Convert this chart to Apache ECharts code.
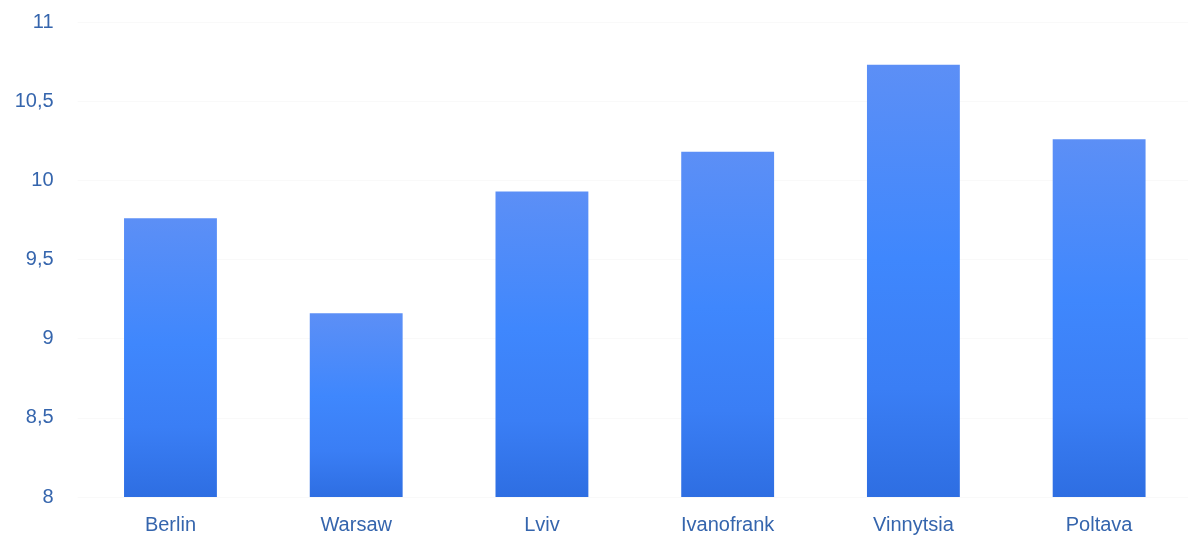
<!DOCTYPE html>
<html>
<head>
<meta charset="utf-8">
<script src="https://cdn.jsdelivr.net/npm/echarts@6/dist/echarts.min.js"></script>
<style>
html,body{margin:0;padding:0;background:#fff;overflow:hidden;}
#chart{width:1192px;height:537px;}
</style>
</head>
<body>
<div id="chart"></div>
<script>
const categories = ['Berlin', 'Warsaw', 'Lviv', 'Ivanofrank', 'Vinnytsia', 'Poltava'];
const values = [9.76, 9.16, 9.93, 10.18, 10.73, 10.26];
const yMin = 8, yMax = 11, yInterval = 0.5;

const chart = echarts.init(document.getElementById('chart'), null, {renderer: 'canvas'});
chart.setOption({
  animation: false,
  backgroundColor: '#ffffff',
  grid: {left: 77.6, right: 0, top: 22, bottom: 40, containLabel: false},
  xAxis: {
    type: 'category',
    data: categories,
    axisLine: {show: false},
    axisTick: {show: false},
    axisLabel: {color: '#3565ad', fontSize: 20, fontFamily: 'Liberation Sans, Arial, sans-serif', margin: 18}
  },
  yAxis: {
    type: 'value',
    min: yMin, max: yMax, interval: yInterval,
    axisLine: {show: false},
    axisTick: {show: false},
    splitLine: {show: true, lineStyle: {color: '#f9f9f9', width: 1}},
    axisLabel: {
      color: '#3565ad', fontSize: 20, fontFamily: 'Liberation Sans, Arial, sans-serif', margin: 24,
      formatter: v => String(v).replace('.', ',')
    }
  },
  series: [{
    type: 'bar',
    data: values,
    barWidth: '50%',
    itemStyle: {
      color: new echarts.graphic.LinearGradient(0, 0, 0, 1, [
        {offset: 0, color: '#5c8ff6'},
        {offset: 0.45, color: '#3f87fd'},
        {offset: 0.75, color: '#3a7ef5'},
        {offset: 1, color: '#2e6ee2'}
      ])
    }
  }]
});
</script>
</body>
</html>
